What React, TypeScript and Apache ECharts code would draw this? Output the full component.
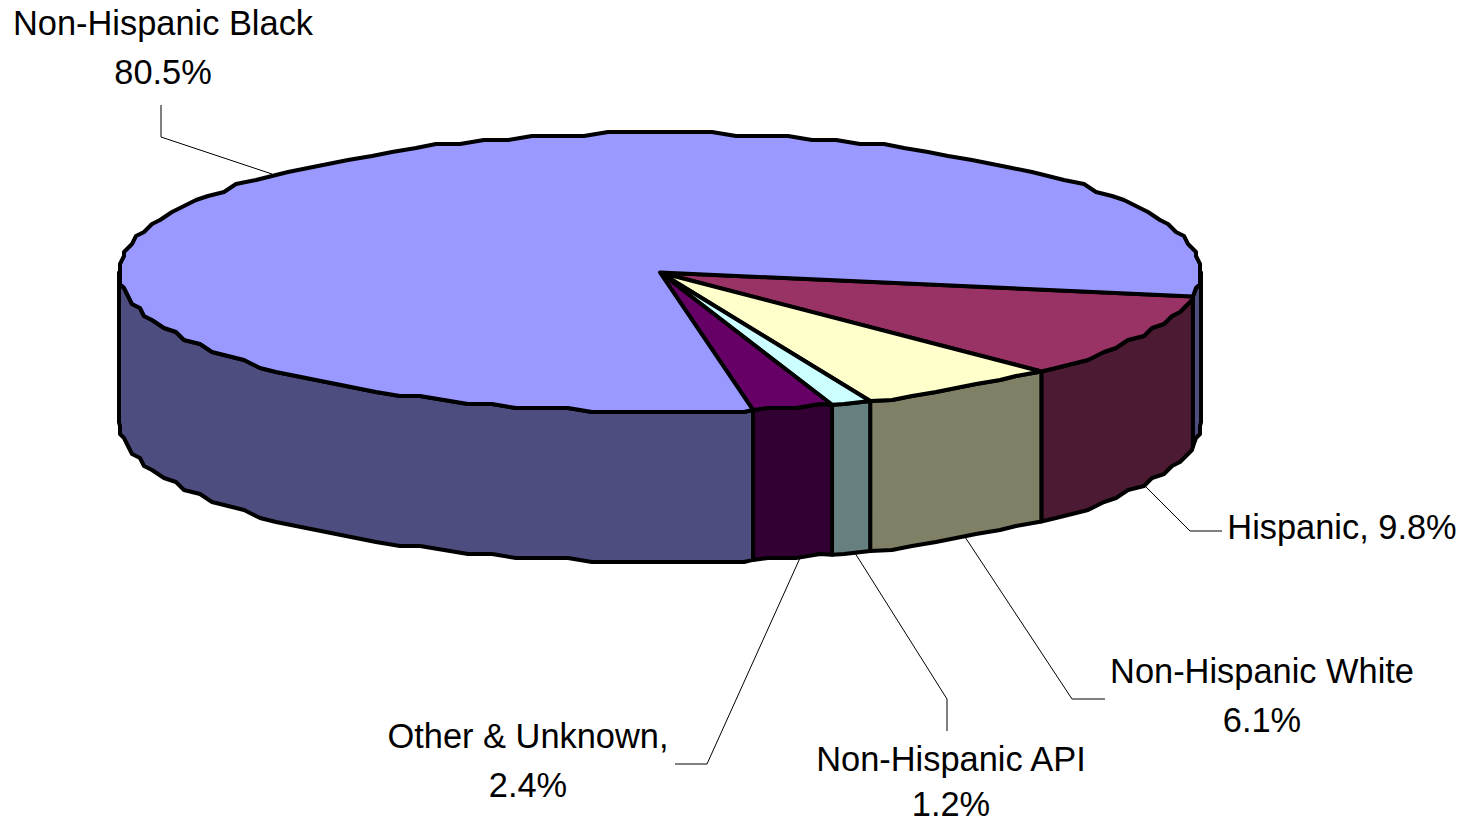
import React, { useEffect, useRef } from "react";
import * as echarts from "echarts";

const names = ["Hispanic", "Non-Hispanic White", "Non-Hispanic API", "Other & Unknown", "Non-Hispanic Black"];
const values = [9.8, 6.1, 1.2, 2.4, 80.5];
const topColors = ["#993366", "#FFFFCC", "#CCFFFF", "#660066", "#9999FF"];
const wallColors = ["#4D1A33", "#808066", "#668080", "#330033", "#4D4D80"];
const labelTexts = [["Hispanic, 9.8%"], ["Non-Hispanic White", "6.1%"], ["Non-Hispanic API", "1.2%"], ["Other & Unknown,", "2.4%"], ["Non-Hispanic Black", "80.5%"]];
const labelFirstLine = [[1342, 527], [1262, 671], [951, 759], [528, 736], [163, 23]];
const labelGaps = [0, 48.5, 45, 48.5, 48.5];
const leaders = [
  [[1143, 484], [1190, 531], [1222, 531]],
  [[965, 537], [1072, 699], [1105, 699]],
  [[855, 553], [947, 699], [947, 731]],
  [[800, 558], [707, 764], [675, 764]],
  [[161, 105], [161, 137], [272, 174]],
];

const CX = 660, CY = 272.5, RX = 541, RY = 139.5, DEPTH = 150;
const START_DEG = 9.9, STEP_DEG = 2.7, GRID = 4;

const pt = (deg: number, dy = 0, snap = true) => {
  const a = (deg * Math.PI) / 180;
  const x = CX + RX * Math.cos(a);
  const y = CY + RY * Math.sin(a);
  if (!snap) return [x, y + dy];
  return [Math.round(x / GRID) * GRID, Math.round(y / GRID) * GRID + dy];
};

const arc = (t1: number, t2: number, dy = 0) => {
  const out = [pt(t1, dy, false)];
  for (let k = Math.ceil(t1 / STEP_DEG + 0.3); k * STEP_DEG < t2 - STEP_DEG * 0.3; k++) out.push(pt(k * STEP_DEG, dy));
  out.push(pt(t2, dy, false));
  return out;
};

const lineStyle = { stroke: "#000", lineWidth: 4, lineJoin: "round" as const };

const wallShape = (t1: number, t2: number, fill: string) => ({
  type: "polygon",
  shape: { points: [...arc(t1, t2), ...arc(t1, t2, DEPTH).reverse()] },
  style: { fill, ...lineStyle },
});

const seriesData = values.map((v, i) => {
  const before = values.slice(0, i).reduce((a, b) => a + b, 0);
  return [before, v, i];
});
const range = (api: any) => {
  const t1 = START_DEG + (api.value(0) / 100) * 360;
  const t2 = t1 + (api.value(1) / 100) * 360;
  return [t1, t2];
};

export default function App() {
  const ref = useRef<HTMLDivElement>(null);
  useEffect(() => {
    const chart = echarts.init(ref.current!, null, { renderer: "svg" });
    chart.setOption({
      animation: false,
      backgroundColor: "#fff",
      series: [
        {
          type: "custom",
          coordinateSystem: "none",
          silent: true,
          z: 1,
          data: seriesData,
          renderItem: (_p: any, api: any) => {
            const [t1, t2] = range(api);
            const fill = wallColors[api.value(2)];
            const children: any[] = [];
            if (t1 < 180) children.push(wallShape(t1, Math.min(t2, 180), fill));
            if (t2 > 360) children.push(wallShape(360, t2, fill));
            return { type: "group", children };
          },
        },
        {
          type: "custom",
          coordinateSystem: "none",
          silent: true,
          z: 2,
          data: seriesData,
          renderItem: (_p: any, api: any) => {
            const [t1, t2] = range(api);
            return {
              type: "polygon",
              shape: { points: [[CX, CY], ...arc(t1, t2)] },
              style: { fill: topColors[api.value(2)], ...lineStyle },
            };
          },
        },
      ],
      graphic: [
        ...leaders.map((points) => ({
          type: "polyline",
          z: 5,
          shape: { points },
          style: { stroke: "#000", lineWidth: 1, fill: "none" },
        })),
        ...labelTexts.flatMap((lines, i) =>
          lines.map((text, j) => ({
            type: "text",
            z: 6,
            x: labelFirstLine[i][0],
            y: labelFirstLine[i][1] + j * labelGaps[i],
            style: {
              text,
              fill: "#000",
              font: '34.4px "Liberation Sans", Arial, sans-serif',
              lineHeight: 32,
              align: "center",
              verticalAlign: "middle",
            },
          }))
        ),
      ],
    });
    return () => chart.dispose();
  }, []);
  return <div ref={ref} aria-label={names.join(", ")} style={{ position: "absolute", left: 0, top: 0, width: 1480, height: 825 }} />;
}
